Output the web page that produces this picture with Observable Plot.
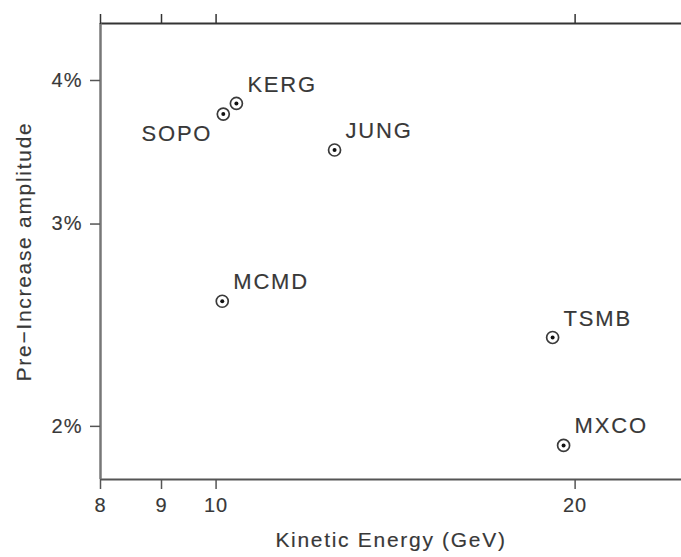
<!DOCTYPE html>
<html>
<head>
<meta charset="utf-8">
<script src="https://cdn.jsdelivr.net/npm/d3@7"></script>
<script src="https://cdn.jsdelivr.net/npm/@observablehq/plot@0.6"></script>
<style>
  html, body { margin: 0; padding: 0; background: #fff; overflow: hidden; }
  svg text { font-family: "Liberation Sans", Arial, sans-serif; }
</style>
</head>
<body>
<div id="chart"></div>
<script>
const stations = ["SOPO", "KERG", "JUNG", "MCMD", "TSMB", "MXCO"];
const energy = [10.14, 10.40, 12.57, 10.12, 19.15, 19.56];      // GeV
const amplitude = [3.74, 3.82, 3.48, 2.57, 2.39, 1.925];        // %
const xTicks = [8, 9, 10, 20];
const yTicks = [2, 3, 4];
const xDomain = [8, 24.56];
const yDomain = [1.798, 4.484];

const data = stations.map((s, i) => ({station: s, energy: energy[i], amplitude: amplitude[i]}));
const leftLabels = data.filter(d => d.station === "SOPO");
const rightLabels = data.filter(d => d.station !== "SOPO");

const ink = "#383838";
const lineInk = "#555";

const chart = Plot.plot({
  width: 681,
  height: 557,
  marginLeft: 100,
  marginRight: 0,
  marginTop: 23,
  marginBottom: 78,
  style: {fontSize: "20px", color: ink, background: "#fff", overflow: "visible"},
  x: {type: "log", domain: xDomain},
  y: {type: "log", domain: yDomain},
  marks: [
    Plot.ruleY([yDomain[0]], {stroke: lineInk, strokeWidth: 2}),
    Plot.ruleY([yDomain[1]], {stroke: "#333", strokeWidth: 2}),
    Plot.ruleX([xDomain[0]], {stroke: "#777", strokeWidth: 2.5}),
    Plot.axisX({anchor: "bottom", ticks: xTicks, tickFormat: d => String(d), tickSize: 10, tickPadding: 8,
      label: "Kinetic Energy (GeV)", labelAnchor: "center", labelArrow: "none", labelOffset: 67,
      stroke: lineInk, strokeWidth: 1.5, fontSize: 20}),
    Plot.axisX({anchor: "top", ticks: xTicks, tickFormat: () => "", tickSize: 10, label: null,
      stroke: "#333", strokeWidth: 1.5}),
    Plot.axisY({anchor: "left", ticks: yTicks, tickFormat: d => d + "%", tickSize: 10, tickPadding: 8,
      label: "Pre\u2212Increase amplitude", labelAnchor: "center", labelArrow: "none", labelOffset: 84,
      stroke: lineInk, strokeWidth: 1.5, fontSize: 20}),
    Plot.dot(data, {x: "energy", y: "amplitude", r: 6, stroke: "#3a3a3a", strokeWidth: 1.7, fill: "none"}),
    Plot.dot(data, {x: "energy", y: "amplitude", r: 2, fill: "#111", stroke: "none"}),
    Plot.text(rightLabels, {x: "energy", y: "amplitude", text: "station", dx: 11, dy: -19,
      textAnchor: "start", fill: ink, fontSize: 22}),
    Plot.text(leftLabels, {x: "energy", y: "amplitude", text: "station", dx: -11, dy: 20,
      textAnchor: "end", fill: ink, fontSize: 22})
  ]
});
const svg = d3.select(chart);
svg.selectAll("text")
  .style("letter-spacing", "1.8px")
  .style("stroke", ink)
  .style("stroke-width", "0.15px");
svg.selectAll('[aria-label="x-axis tick label"] text, [aria-label="y-axis tick label"] text')
  .style("font-size", "20px").style("letter-spacing", "1px");
svg.selectAll('[aria-label="x-axis label"] text, [aria-label="y-axis label"] text')
  .style("font-size", "21px").style("letter-spacing", "1.7px");
document.getElementById("chart").appendChild(chart);
</script>
</body>
</html>
